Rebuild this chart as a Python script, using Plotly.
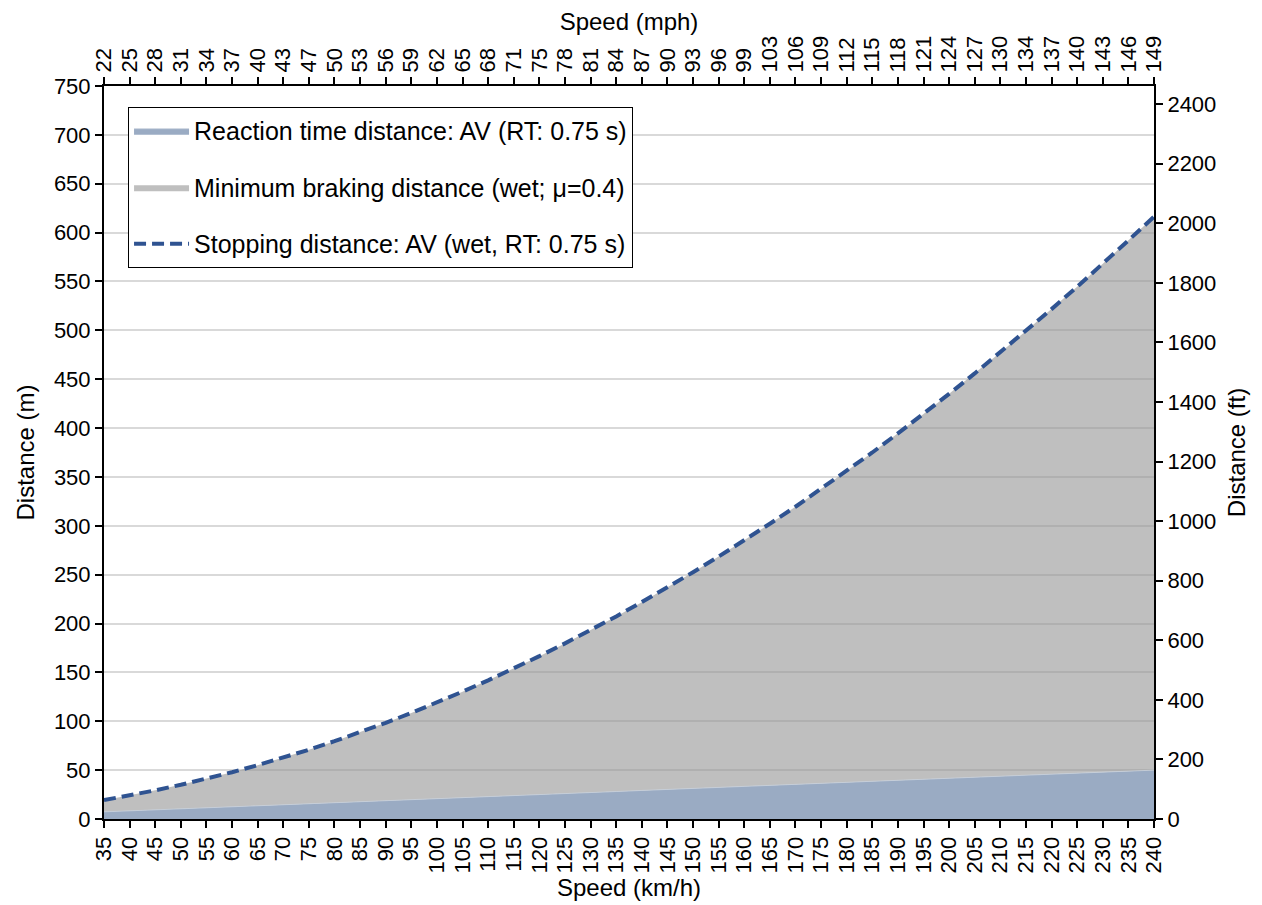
import plotly.graph_objects as go

# Speeds (km/h) on the bottom axis
speed_kmh = list(range(35, 245, 5))
# Top-axis tick labels (mph)
speed_mph = [22, 25, 28, 31, 34, 37, 40, 43, 47, 50, 53, 56, 59, 62, 65, 68, 71, 75, 78, 81, 84,
             87, 90, 93, 96, 99, 103, 106, 109, 112, 115, 118, 121, 124, 127, 130, 134, 137, 140,
             143, 146, 149]

# Reaction time distance (m)
reaction_m = [7.3, 8.3, 9.4, 10.4, 11.5, 12.5, 13.5, 14.6, 15.6, 16.7, 17.7, 18.8, 19.8, 20.8,
              21.9, 22.9, 24.0, 25.0, 26.0, 27.1, 28.1, 29.2, 30.2, 31.3, 32.3, 33.3, 34.4, 35.4,
              36.5, 37.5, 38.5, 39.6, 40.6, 41.7, 42.7, 43.8, 44.8, 45.8, 46.9, 47.9, 49.0, 50.0]
# Minimum braking distance (m)
braking_m = [12.0, 15.7, 19.9, 24.6, 29.7, 35.4, 41.5, 48.2, 55.3, 62.9, 71.0, 79.6, 88.7, 98.3,
             108.4, 119.0, 130.0, 141.6, 153.6, 166.2, 179.2, 192.7, 206.7, 221.2, 236.2, 251.7,
             267.7, 284.1, 301.1, 318.6, 336.5, 354.9, 373.9, 393.3, 413.2, 433.6, 454.5, 475.9,
             497.7, 520.1, 543.0, 566.3]
# Stopping distance (m)
stopping_m = [19.3, 24.1, 29.3, 35.0, 41.2, 47.9, 55.1, 62.8, 70.9, 79.6, 88.7, 98.4, 108.5, 119.2,
              130.3, 141.9, 154.0, 166.6, 179.7, 193.3, 207.3, 221.9, 236.9, 252.5, 268.5, 285.0,
              302.1, 319.5, 337.6, 356.1, 375.0, 394.5, 414.5, 435.0, 455.9, 477.4, 499.3, 521.7,
              544.6, 568.0, 592.0, 616.3]

y_max_m = 750
y_max_ft = 2460.63
ft_ticks = list(range(0, 2600, 200))

FONT = "Liberation Sans, Arial, sans-serif"
TICK_FS = 22
TITLE_FS = 24
LEGEND_FS = 25

fig = go.Figure()
fig.add_trace(go.Scatter(
    x=speed_kmh, y=reaction_m, name="Reaction time distance: AV (RT: 0.75 s)",
    stackgroup="one", mode="lines", line=dict(width=0.8, color="#C8D0DC"),
    fillcolor="rgba(154,171,195,1)", legendgroup="a", hoverinfo="skip"))
fig.add_trace(go.Scatter(
    x=speed_kmh, y=braking_m, name="Minimum braking distance (wet; μ=0.4)",
    stackgroup="one", mode="lines", line=dict(width=0),
    fillcolor="rgba(149,149,149,0.6)", legendgroup="b", hoverinfo="skip"))
fig.add_trace(go.Scatter(
    x=speed_kmh, y=stopping_m, name="Stopping distance: AV (wet, RT: 0.75 s)",
    mode="lines", line=dict(color="#2F5391", width=4, dash="12px,6px"),
    legendgroup="c", hoverinfo="skip"))
# invisible trace to bind the secondary axes
fig.add_trace(go.Scatter(
    x=speed_kmh, y=[0] * len(speed_kmh), xaxis="x2", yaxis="y2", mode="lines",
    line=dict(width=0), showlegend=False, hoverinfo="skip", opacity=0))

axis_common = dict(showline=True, linecolor="black", linewidth=2, ticks="outside",
                   ticklen=7, tickwidth=2, tickcolor="black", automargin=False,
                   tickfont=dict(family=FONT, size=TICK_FS, color="black"), zeroline=False)

fig.update_layout(
    width=1254, height=897,
    margin=dict(l=96, r=108, t=78, b=86),
    paper_bgcolor="white", plot_bgcolor="white",
    font=dict(family=FONT, size=TICK_FS, color="black"),
    xaxis=dict(range=[35, 240], tickvals=speed_kmh, ticktext=[str(v) for v in speed_kmh],
               tickangle=-90, showgrid=False,
               title=dict(text="Speed (km/h)", font=dict(size=TITLE_FS), standoff=6), **axis_common),
    xaxis2=dict(range=[35, 240], overlaying="x", side="top", tickvals=speed_kmh,
                ticktext=[str(v) for v in speed_mph], tickangle=-90, showgrid=False,
                title=dict(text="Speed (mph)", font=dict(size=TITLE_FS), standoff=8), **axis_common),
    yaxis=dict(range=[0, y_max_m], dtick=50, tick0=0, showgrid=True, gridcolor="#D9D9D9",
               gridwidth=2,
               title=dict(text="Distance (m)", font=dict(size=TITLE_FS), standoff=12), **axis_common),
    yaxis2=dict(range=[0, y_max_ft], overlaying="y", side="right", tickvals=ft_ticks,
                showgrid=False,
                title=dict(text="Distance (ft)", font=dict(size=TITLE_FS), standoff=13), **axis_common),
    legend=dict(x=0.0229, y=0.9714, xanchor="left", yanchor="top",
                bgcolor="white", bordercolor="black", borderwidth=1,
                font=dict(family=FONT, size=LEGEND_FS, color="black"),
                tracegroupgap=21, traceorder="grouped", itemwidth=55,
                entrywidth=450, entrywidthmode="pixels"),
    showlegend=True,
)

fig.write_html("out.html")
